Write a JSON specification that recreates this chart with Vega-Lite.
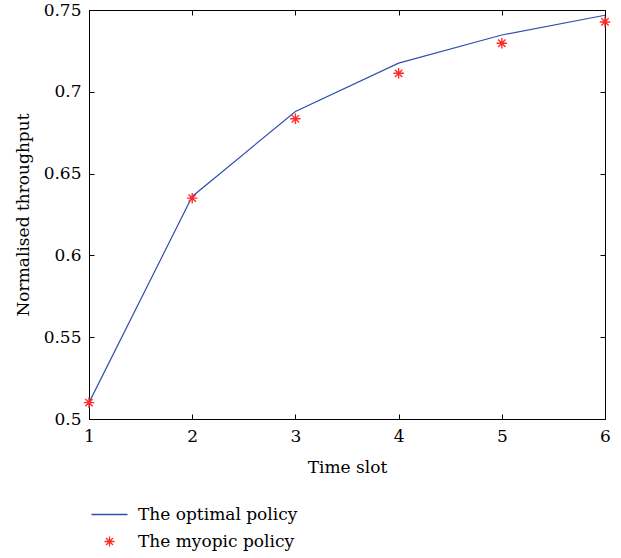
{
  "$schema": "https://vega.github.io/schema/vega-lite/v6.json",
  "autosize": {"type": "none"},
  "padding": {"left": 89, "top": 10, "right": 16, "bottom": 139},
  "width": 516,
  "height": 409,
  "background": "white",
  "config": {
    "view": {"stroke": "black", "strokeWidth": 1},
    "font": "DejaVu Serif",
    "axis": {
      "labelFont": "DejaVu Serif",
      "titleFont": "DejaVu Serif",
      "labelFontSize": 17,
      "titleFontSize": 17,
      "titleFontWeight": "normal",
      "labelColor": "black",
      "titleColor": "black",
      "domain": false,
      "grid": false,
      "tickColor": "black",
      "tickSize": -5,
      "labelFlush": false
    },
    "legend": {"labelFont": "DejaVu Serif", "labelFontSize": 17, "labelColor": "black"}
  },
  "data": {
    "values": [
      {"x": 1, "value": 0.510, "series": "The optimal policy"},
      {"x": 2, "value": 0.636, "series": "The optimal policy"},
      {"x": 3, "value": 0.688, "series": "The optimal policy"},
      {"x": 4, "value": 0.7175, "series": "The optimal policy"},
      {"x": 5, "value": 0.7347, "series": "The optimal policy"},
      {"x": 6, "value": 0.7468, "series": "The optimal policy"},
      {"x": 1, "value": 0.510, "series": "The myopic policy"},
      {"x": 2, "value": 0.635, "series": "The myopic policy"},
      {"x": 3, "value": 0.6835, "series": "The myopic policy"},
      {"x": 4, "value": 0.7113, "series": "The myopic policy"},
      {"x": 5, "value": 0.7297, "series": "The myopic policy"},
      {"x": 6, "value": 0.7427, "series": "The myopic policy"}
    ]
  },
  "resolve": {"axis": {"x": "independent", "y": "independent"}},
  "layer": [
    {
      "transform": [{"filter": "datum.series === 'The optimal policy'"}],
      "mark": {"type": "line", "strokeWidth": 1.2},
      "encoding": {
        "x": {"field": "x", "type": "quantitative", "scale": {"domain": [1, 6], "nice": false, "zero": false},
              "axis": {"orient": "bottom", "title": "Time slot", "values": [1, 2, 3, 4, 5, 6], "labelPadding": 14, "titlePadding": 15}},
        "y": {"field": "value", "type": "quantitative", "scale": {"domain": [0.5, 0.75], "nice": false, "zero": false},
              "axis": {"orient": "left", "title": "Normalised throughput", "format": ".2~f", "values": [0.5, 0.55, 0.6, 0.65, 0.7, 0.75], "labelPadding": 13, "titlePadding": 11}},
        "color": {"field": "series", "type": "nominal", "title": null,
                  "scale": {"domain": ["The optimal policy", "The myopic policy"], "range": ["#3050b0", "#ff2a2a"]},
                  "legend": {"orient": "none", "legendX": 12, "legendY": 496, "symbolSize": 100, "symbolStrokeWidth": 1.3, "rowPadding": 9, "labelOffset": 20, "symbolOffset": 0}},
        "shape": {"field": "series", "type": "nominal", "title": null,
                  "scale": {"domain": ["The optimal policy", "The myopic policy"], "range": ["M-3.6,0L3.6,0", "M0,-1L0,1M-1,0L1,0M-0.7,-0.7L0.7,0.7M-0.7,0.7L0.7,-0.7"]}}
      }
    },
    {
      "transform": [{"filter": "datum.series === 'The myopic policy'"}],
      "mark": {"type": "point", "filled": false, "size": 110, "strokeWidth": 1.4, "opacity": 1},
      "encoding": {
        "x": {"field": "x", "type": "quantitative", "axis": {"orient": "top", "title": null, "labels": false, "values": [1, 2, 3, 4, 5, 6]}},
        "y": {"field": "value", "type": "quantitative", "axis": {"orient": "right", "title": null, "labels": false, "values": [0.5, 0.55, 0.6, 0.65, 0.7, 0.75]}},
        "color": {"field": "series", "type": "nominal", "title": null},
        "shape": {"field": "series", "type": "nominal", "title": null}
      }
    }
  ]
}
